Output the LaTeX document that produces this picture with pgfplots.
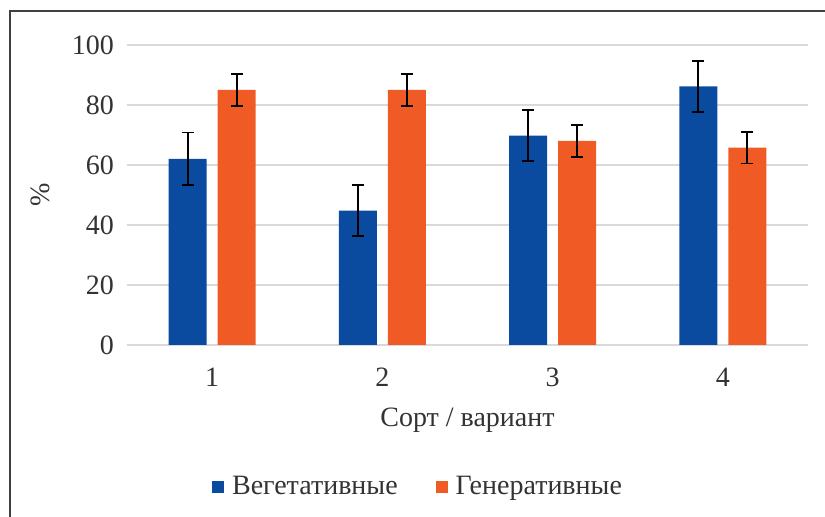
\documentclass[border=0pt]{standalone}
\usepackage{pgfplots}
\pgfplotsset{compat=1.18}
\usepackage{fontspec}
\setmainfont{Liberation Serif}
\definecolor{cblue}{HTML}{0A4BA0}
\definecolor{corange}{HTML}{F05A24}
\definecolor{cgrid}{HTML}{D9D9D9}
\definecolor{ctext}{HTML}{333333}
\begin{document}
\begin{tikzpicture}
\begin{axis}[
  at={(63.5pt,86pt)}, anchor=south west,
  scale only axis, width=340.5pt, height=150pt,
  ybar, bar width=19pt,
  xmin=0.5, xmax=4.5, ymin=0, ymax=100,
  xtick={1,2,3,4}, ytick={0,20,40,60,80,100},
  axis line style={draw=none},
  axis x line*=bottom, axis y line*=left,
  major tick length=0pt,
  ymajorgrids, grid style={cgrid, line width=0.8pt},
  /pgf/number format/assume math mode=true,
  tick label style={font=\fontsize{14}{16}\selectfont, text=ctext},
  yticklabel style={xshift=-3pt},
  xticklabel style={yshift=-8pt},
  xlabel={Сорт / вариант},
  xlabel style={font=\fontsize{14}{16}\selectfont, text=ctext, at={(axis description cs:0.5,-0.25)}, anchor=center},
  ylabel={\%},
  ylabel style={font=\fontsize{14}{16}\selectfont, text=ctext, at={(axis description cs:-0.127,0.5)}, anchor=center, rotate=0},
  legend columns=2,
  legend style={draw=none, at={(axis description cs:0.4288,-0.4733)}, anchor=center,
    font=\fontsize{14}{16}\selectfont, text=ctext,
    /tikz/every even column/.append style={column sep=17pt}},
  legend image code/.code={\fill[#1, draw=none] (0pt,-3pt) rectangle (6pt,3pt); \path (8pt,0pt);},
  error bars/y dir=both, error bars/y explicit,
  error bars/error mark options={rotate=90, mark size=3pt, line width=0.9pt, black},
  error bars/error bar style={line width=0.9pt, black},
]
\addplot[fill=cblue, draw=none, bar shift=-12.25pt] coordinates {
  (1,62) +- (0,8.8)
  (2,44.8) +- (0,8.5)
  (3,69.8) +- (0,8.5)
  (4,86.2) +- (0,8.5)
};
\addplot[fill=corange, draw=none, bar shift=12.25pt] coordinates {
  (1,85) +- (0,5.3)
  (2,85) +- (0,5.3)
  (3,68) +- (0,5.3)
  (4,65.8) +- (0,5.3)
};
\legend{Вегетативные, Генеративные}
\end{axis}
\draw[line width=0.8pt, draw=black!75] (5pt,-20pt) rectangle (430pt,253pt);
\pgfresetboundingbox
\path[use as bounding box] (0,0) rectangle (412.5pt,258.5pt);
\end{tikzpicture}
\end{document}
